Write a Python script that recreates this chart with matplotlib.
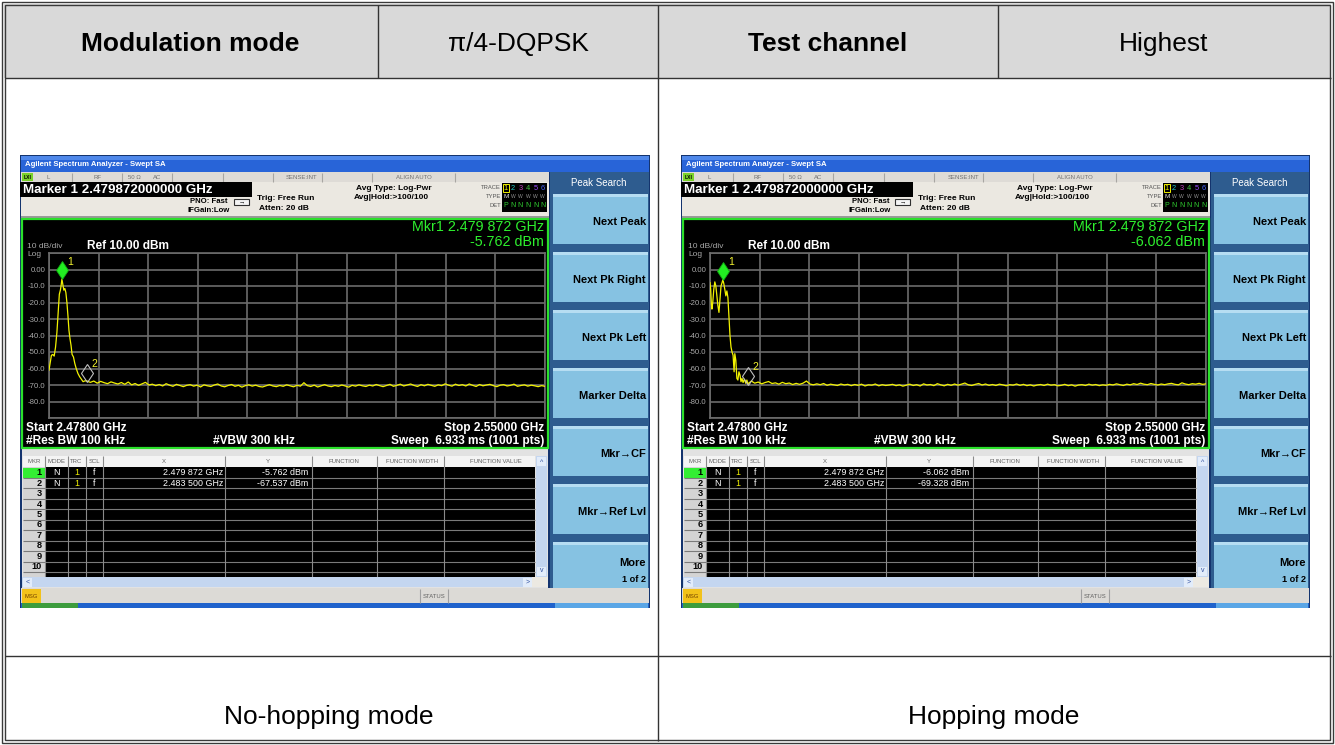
import numpy as np
import matplotlib
matplotlib.use('Agg')
import matplotlib.pyplot as plt
from matplotlib.patches import Rectangle

# ---------------- data ----------------
header_labels = ["Modulation mode", "π/4-DQPSK", "Test channel", "Highest"]
header_bold = [True, False, True, False]
footer_labels = ["No-hopping mode", "Hopping mode"]

start_ghz = 2.478
stop_ghz = 2.550
ref_level = 10.0
db_per_div = 10.0
ytick_vals = [0, -10, -20, -30, -40, -50, -60, -70, -80]
ytick_labels = ["0.00", "-10.0", "-20.0", "-30.0", "-40.0", "-50.0", "-60.0", "-70.0", "-80.0"]

mkr_freqs_ghz = [2.479872, 2.483500]
mkr_x_labels = ["2.479 872 GHz", "2.483 500 GHz"]
nohop_mkr_db = [-5.762, -67.537]
hop_mkr_db = [-6.062, -69.328]

# trace readings: offset from start frequency in MHz, level in dBm
nohop_peak_mhz = [0.0, 0.15, 0.35, 0.55, 0.75, 0.95, 1.15, 1.35, 1.5, 1.65, 1.75, 1.872,
                  2.0, 2.15, 2.3, 2.45, 2.6, 2.75, 2.9, 3.05, 3.2, 3.35, 3.55, 3.75,
                  3.95, 4.2, 4.45, 4.7, 4.95, 5.2, 5.5]
nohop_peak_db = [-61.0, -57.0, -52.0, -51.5, -52.5, -47.0, -38.0, -25.0, -15.0, -12.5, -10.0, -5.76,
                 -9.0, -12.5, -11.5, -14.0, -20.0, -28.0, -37.0, -42.0, -46.0, -51.5, -53.0, -57.0,
                 -60.0, -63.0, -65.0, -66.5, -68.0, -67.5, -67.54]

hop_peak_mhz = [0.0, 0.1, 0.2, 0.28, 0.4, 0.55, 0.7, 0.85, 1.0, 1.15, 1.3, 1.45, 1.6, 1.75, 1.872,
                2.0, 2.15, 2.3, 2.45, 2.6, 2.75, 2.9, 3.05, 3.2, 3.35, 3.5, 3.6, 3.75, 3.9, 4.05,
                4.2, 4.35, 4.5, 4.65, 4.8, 5.0, 5.2, 5.35, 5.5]
hop_peak_db = [-8.0, -12.0, -21.0, -24.0, -20.0, -12.0, -7.5, -10.0, -16.0, -22.0, -26.0, -18.0, -10.0, -8.0, -6.06,
               -8.5, -12.0, -16.0, -13.0, -17.0, -28.0, -40.0, -47.0, -50.0, -52.0, -62.0, -51.0, -55.0, -66.0, -67.0,
               -62.0, -64.0, -68.0, -66.0, -68.5, -66.5, -69.0, -67.0, -69.33]

floor_mhz = np.arange(6.0, 72.01, 0.5)   # sweep grid of the noise-floor readings
nohop_floor_db = [
    -68.4, -67.6, -68.9, -67.8, -68.6, -69.2, -68.1, -68.8, -69.4, -68.5,
    -69.6, -68.2, -69.9, -69.1, -70.2, -69.3, -68.4, -70.0, -69.5, -70.4,
    -69.7, -70.6, -69.2, -70.1, -70.8, -69.6, -70.3, -71.0, -70.2, -69.8,
    -70.7, -70.1, -71.2, -69.9, -70.5, -70.9, -70.0, -69.4, -70.6, -71.1,
    -70.3, -69.7, -70.8, -70.2, -71.3, -70.4, -69.9, -70.7, -70.1, -70.9,
    -71.2, -70.5, -69.8, -70.6, -71.0, -70.3, -70.8, -69.9, -70.5, -71.1,
    -70.2, -70.7, -68.6, -70.4, -70.9, -70.1, -71.2, -70.5, -69.8, -70.6,
    -71.0, -70.3, -70.8, -70.0, -70.6, -71.3, -70.2, -70.7, -69.9, -70.5,
    -70.9, -70.1, -70.6, -69.7, -70.4, -71.0, -70.3, -69.6, -70.8, -70.2,
    -69.5, -70.6, -70.0, -69.4, -70.3, -70.9, -69.8, -70.5, -69.6, -70.2,
    -70.8, -69.9, -70.4, -69.3, -70.1, -70.7, -69.5, -70.3, -69.8, -70.6,
    -69.4, -70.2, -70.9, -69.7, -70.5, -70.0, -69.6, -70.4, -71.0, -70.1,
    -69.8, -70.6, -70.2, -69.5, -70.8, -70.3, -69.9, -70.7, -70.1, -70.5,
    -71.0, -70.4, -70.8]
hop_floor_db = [
    -67.6, -68.9, -68.2, -69.3, -68.5, -67.9, -69.1, -68.7, -69.5, -68.4,
    -69.2, -68.8, -69.7, -69.0, -69.6, -68.9, -67.6, -69.4, -69.9, -69.3,
    -69.8, -69.1, -70.2, -69.5, -69.9, -70.3, -69.4, -70.0, -69.6, -70.4,
    -69.7, -70.2, -69.5, -70.6, -69.9, -70.1, -69.4, -70.5, -69.8, -70.3,
    -70.0, -69.6, -70.4, -69.9, -70.7, -70.1, -69.5, -70.3, -69.8, -70.6,
    -69.3, -70.0, -69.7, -70.4, -69.2, -69.9, -70.5, -69.6, -70.2, -69.4,
    -70.1, -69.5, -68.8, -69.9, -70.3, -69.6, -69.1, -70.0, -69.4, -70.2,
    -69.7, -70.3, -69.5, -69.9, -70.5, -69.8, -70.1, -69.4, -70.2, -69.6,
    -70.4, -69.9, -70.6, -70.0, -69.7, -70.3, -69.5, -70.1, -69.8, -70.5,
    -70.2, -69.6, -70.4, -69.9, -70.7, -70.0, -69.8, -70.3, -69.5, -70.1,
    -69.7, -70.4, -69.9, -70.2, -69.6, -70.0, -69.3, -69.8, -70.3, -69.5,
    -69.9, -69.2, -69.7, -68.9, -69.5, -69.8, -69.1, -69.6, -70.0, -69.4,
    -69.8, -69.3, -69.0, -69.6, -69.9, -68.7, -69.4, -69.8, -69.2, -69.5,
    -69.0, -69.6, -69.3]

softkeys = ["Next Peak", "Next Pk Right", "Next Pk Left", "Marker Delta",
            "Mkr\u2192CF", "Mkr\u2192Ref Lvl", "More"]

# ---------------- figure ----------------
FIG_W, FIG_H = 1335, 745
fig = plt.figure(figsize=(FIG_W / 100, FIG_H / 100), dpi=100)
fig.patch.set_facecolor('white')
bg = fig.add_axes([0, 0, 1, 1])
bg.set_xlim(0, FIG_W)
bg.set_ylim(FIG_H, 0)
bg.axis('off')

FONT = ['Liberation Sans', 'DejaVu Sans']


def rect(x, y, w, h, fc, ec='none', lw=0, z=1):
    bg.add_patch(Rectangle((x, y), w, h, facecolor=fc, edgecolor=ec, linewidth=lw, zorder=z))


def line(x0, y0, x1, y1, c='#333333', lw=1.0, z=3):
    bg.plot([x0, x1], [y0, y1], color=c, lw=lw, zorder=z, solid_capstyle='butt')


def txt(x, y, s, size, color='black', ha='left', va='center', weight='normal', z=6):
    bg.text(x, y, s, fontsize=size, color=color, ha=ha, va=va, fontweight=weight,
            family=FONT, zorder=z)


# ---------------- outer table ----------------
rect(4, 4, 1327, 74, '#d9d9d9', z=0)
bg.add_patch(Rectangle((1.5, 1.5), 1331, 741, fill=False, ec='#3a3a3a', lw=1.0, zorder=3))
bg.add_patch(Rectangle((4.5, 4.5), 1325, 735, fill=False, ec='#3a3a3a', lw=1.0, zorder=3))
line(4.5, 78, 1330.5, 78)
line(4.5, 656, 1330.5, 656)
line(658, 4.5, 658, 740.5)
line(378, 4.5, 378, 78)
line(998, 4.5, 998, 78)

for lab, cx, b in zip(header_labels, [190, 518, 828, 1164], header_bold):
    txt(cx, 44, lab, 19, ha='center', weight='bold' if b else 'normal')
for lab, cx in zip(footer_labels, [329, 994]):
    txt(cx, 717, lab, 19, ha='center')


# ---------------- analyzer screen ----------------
def screen(ox, W, peak_mhz, peak_db, floor_db, mkr_db):
    def R(rx, y, w, h, fc, **k):
        rect(ox + rx, y, w, h, fc, **k)

    def T(rx, y, s, size, **k):
        txt(ox + rx, y, s, size, **k)

    def L(rx0, y0, rx1, y1, **k):
        line(ox + rx0, y0, ox + rx1, y1, **k)

    R(0, 155, W, 453, '#14346e', z=1)
    # title bar
    R(1, 156, W - 2, 16, '#2864d8', z=2)
    R(1, 156, W - 2, 4, '#4f88ea', z=2)
    T(5, 164.5, 'Agilent Spectrum Analyzer - Swept SA', 5.6, color='white', weight='bold')
    # status strip
    R(1, 172, 528, 10, '#dedbd6', z=2)
    R(2, 173, 11, 8, '#7ad22a', z=3)
    T(7.5, 177.3, 'LXI', 3.6, ha='center', weight='bold')
    for rx in [52, 102, 152, 203, 253, 302, 352, 435]:
        L(rx, 172.5, rx, 181.5, c='#a8a6a2', lw=0.8)
    for s, rx in [('L', 28), ('RF', 77), ('50 \u03a9', 114), ('AC', 137),
                  ('SENSE:INT', 282), ('ALIGN AUTO', 394)]:
        T(rx, 177.3, s, 4.3, color='#707070', ha='center')
    # info area
    R(1, 182, 528, 35, '#ebe8e1', z=2)
    R(0, 182, 232, 15, 'black', z=3)
    T(3, 189.8, 'Marker 1 2.479872000000 GHz', 9.6, color='white', weight='bold')
    T(208, 201.5, 'PNO: Fast', 5.6, ha='right', weight='bold')
    T(210, 211, 'IFGain:Low', 5.6, ha='right', weight='bold')
    bg.add_patch(Rectangle((ox + 214, 198.5), 15, 6, fc='#f4f4f4', ec='#303030', lw=0.8, zorder=4))
    T(221.5, 201.5, '\u2192', 4.5, ha='center')
    T(237, 198.5, 'Trig: Free Run', 6.0, weight='bold')
    T(239, 209, 'Atten: 20 dB', 6.0, weight='bold')
    T(336, 188, 'Avg Type: Log-Pwr', 6.0, weight='bold')
    T(334, 197.5, 'Avg|Hold:>100/100', 6.0, weight='bold')
    T(481, 187.5, 'TRACE', 4.2, color='#555555', ha='right')
    T(481, 196.5, 'TYPE', 4.2, color='#555555', ha='right')
    T(481, 205.5, 'DET', 4.2, color='#555555', ha='right')
    R(482, 182.5, 45, 29.5, 'black', z=3)
    tx = [485.7, 493, 500.5, 508, 515.5, 522.7]
    tcol = ['#f0f000', '#20c8c8', '#c040c0', '#40c040', '#9a4cff', '#4a66ff']
    R(482.8, 183.5, 6, 8.5, 'none', ec='#f0f000', lw=0.7, z=4)
    for i in range(6):
        T(tx[i], 188, str(i + 1), 5.4, color=tcol[i], ha='center')
        T(tx[i], 196.5, 'M' if i == 0 else 'W', 4.6 if i == 0 else 3.6,
          color='#e0e0e0' if i == 0 else '#909090', ha='center')
        T(tx[i], 205.5, 'P' if i == 0 else 'N', 5.0, color='#30d030', ha='center')
    R(1, 216, 528, 2, '#9a9a9a', z=2)

    # plot area
    R(2, 219, 526, 229, 'black', ec='#2be02b', lw=1.6, z=3)
    T(524, 227, 'Mkr1 2.479 872 GHz', 10.3, color='#2ef02e', ha='right')
    T(524, 241.5, '%.3f dBm' % mkr_db[0], 10.3, color='#2ef02e', ha='right')
    T(7, 246, '10 dB/div', 6.0, color='#a8a8a8')
    T(7, 254.5, 'Log', 6.0, color='#a8a8a8')
    T(67, 246, 'Ref 10.00 dBm', 8.6, color='white', weight='bold')
    T(6, 428, 'Start 2.47800 GHz', 8.6, color='white', weight='bold')
    T(6, 441, '#Res BW 100 kHz', 8.6, color='white', weight='bold')
    T(193, 441, '#VBW 300 kHz', 8.6, color='white', weight='bold')
    T(524, 428, 'Stop 2.55000 GHz', 8.6, color='white', weight='bold', ha='right')
    T(524, 441, 'Sweep  6.933 ms (1001 pts)', 8.6, color='white', weight='bold', ha='right')

    ax = fig.add_axes([(ox + 29) / FIG_W, 1 - 418 / FIG_H, 496 / FIG_W, 165 / FIG_H])
    ax.set_facecolor('black')
    ax.set_zorder(5)
    ax.set_xlim(start_ghz, stop_ghz)
    ax.set_ylim(ref_level - 10 * db_per_div, ref_level)
    ax.set_xticks(np.linspace(start_ghz, stop_ghz, 11))
    yt = [ref_level - k * db_per_div for k in range(11)]
    ax.set_yticks(yt)
    ax.set_yticklabels(['' if v not in ytick_vals else ytick_labels[ytick_vals.index(v)] for v in yt],
                       family=FONT)
    ax.tick_params(length=0, labelbottom=False, labelsize=5.6, labelcolor='#a8a8a8', pad=2.5)
    ax.grid(True, color='#6c6c6c', lw=1.2)
    ax.set_axisbelow(True)
    for sp in ax.spines.values():
        sp.set_color('#6c6c6c')
        sp.set_linewidth(1.2)
    f = start_ghz + np.concatenate([np.array(peak_mhz), floor_mhz]) / 1000.0
    d = np.concatenate([np.array(peak_db), np.array(floor_db)])
    ax.plot(f, d, color='#f2f200', lw=0.9, zorder=3)
    # markers
    ax.plot([mkr_freqs_ghz[0]], [mkr_db[0] + 5.3], marker='d', ms=9.5, mfc='#22ee22',
            mec='#11aa11', mew=0.6, ls='none', zorder=5, clip_on=False)
    ax.annotate('1', (mkr_freqs_ghz[0], mkr_db[0] + 5.3), xytext=(3.5, 4), textcoords='offset points',
                color='#f4f430', fontsize=7.5, family=FONT, zorder=6)
    ax.plot([mkr_freqs_ghz[1]], [mkr_db[1] + 5.0], marker='d', ms=9.5, mfc='none',
            mec='#c0c0c0', mew=0.8, ls='none', zorder=5)
    ax.annotate('2', (mkr_freqs_ghz[1], mkr_db[1] + 5.0), xytext=(3.5, 4), textcoords='offset points',
                color='#f4f430', fontsize=7.5, family=FONT, zorder=6)

    # marker table
    R(2, 449, 526, 139, '#e2e2e2', z=2)
    R(3, 456, 512, 11, '#f4f4f4', z=3)
    for s, rx in [('MKR', 14), ('MODE', 36.5), ('TRC', 56.5), ('SCL', 74.5), ('X', 144), ('Y', 248),
                  ('FUNCTION', 324), ('FUNCTION WIDTH', 392), ('FUNCTION VALUE', 476)]:
        T(rx, 461.5, s, 4.3, color='#606060', ha='center')
    R(25, 467, 490, 110, 'black', z=3)
    R(3, 467, 22, 110, '#d4d4d4', z=3)
    rh = 10.45
    R(3, 467.5, 22, rh, '#33ee33', z=3)
    for i in range(1, 11):
        L(3, 467.5 + i * rh, 515, 467.5 + i * rh, c='#7a7a7a', lw=0.8, z=4)
    for rx in [25, 47.7, 65.7, 83.3, 205, 291.7, 356.7, 424]:
        L(rx, 456, rx, 577, c='#8a8a8a', lw=0.8, z=4)
    for i in range(11):
        yc = 467.5 + (i + 0.5) * rh
        if yc < 577:
            T(22, yc, str(i + 1), 6.6, ha='right', weight='bold', z=5)
    for i in range(2):
        yc = 467.5 + (i + 0.5) * rh
        T(36.5, yc, 'N', 6.4, color='white', ha='center')
        T(56.5, yc, '1', 6.4, color='#f0f000', ha='center')
        T(74.5, yc, 'f', 6.4, color='white', ha='center')
        T(203, yc, mkr_x_labels[i], 6.4, color='white', ha='right')
        T(288, yc, '%.3f dBm' % mkr_db[i], 6.4, color='white', ha='right')
    # scrollbars
    R(516, 456, 11, 121, '#c4d6f0', z=4)
    R(517, 457, 9, 9, '#e2ecfa', z=5)
    R(517, 567, 9, 9, '#e2ecfa', z=5)
    T(521.5, 462, '^', 5, color='#3050a0', ha='center')
    T(521.5, 571, 'v', 5, color='#3050a0', ha='center')
    R(2, 577, 526, 10, '#c4d6f0', z=6)
    R(3, 578, 9, 8.5, '#e2ecfa', z=6)
    R(503, 578, 9, 8.5, '#e2ecfa', z=6)
    T(7.5, 582, '<', 5, color='#3050a0', ha='center', z=7)
    T(507.5, 582, '>', 5, color='#3050a0', ha='center', z=7)
    R(512, 577, 16, 10, '#ece9e2', z=6)
    # status bar
    R(1, 588, W - 2, 15, '#dcdad6', z=7)
    R(2, 589, 19, 13.5, '#f2c21a', z=8)
    T(11.5, 596, 'MSG', 4.2, color='#704000', ha='center', z=9)
    L(400, 588.5, 400, 602.5, c='#a0a0a0', lw=0.8, z=8)
    L(428, 588.5, 428, 602.5, c='#a0a0a0', lw=0.8, z=8)
    T(414, 596, 'STATUS', 4.2, color='#606060', ha='center', z=9)
    R(1, 603, W - 2, 4.5, '#1f62cc', z=7)
    R(2, 603, 56, 4.5, '#3d9c3d', z=8)
    R(535, 603, W - 537, 4.5, '#5aa6e6', z=8)

    # softkey panel
    R(530, 172, W - 531, 416, '#2e5c8f', z=2)
    T(579, 183, 'Peak Search', 7.0, color='white', ha='center')
    for i, lab in enumerate(softkeys):
        top = 194 + i * 58
        h = min(50, 588 - top)
        R(533, top, W - 535, h, '#86c2e2', z=3)
        R(533, top, W - 535, 3, '#b6ddf2', z=3)
        if lab == 'More':
            T(W - 4, top + 21, 'More', 8.0, weight='bold', ha='right')
            T(W - 4, top + 37, '1 of 2', 6.6, weight='bold', ha='right')
        else:
            T(W - 4, top + 28, lab, 8.0, weight='bold', ha='right')


screen(20, 630, nohop_peak_mhz, nohop_peak_db, nohop_floor_db, nohop_mkr_db)
screen(681, 629, hop_peak_mhz, hop_peak_db, hop_floor_db, hop_mkr_db)

fig.savefig('out.png', dpi=100)
